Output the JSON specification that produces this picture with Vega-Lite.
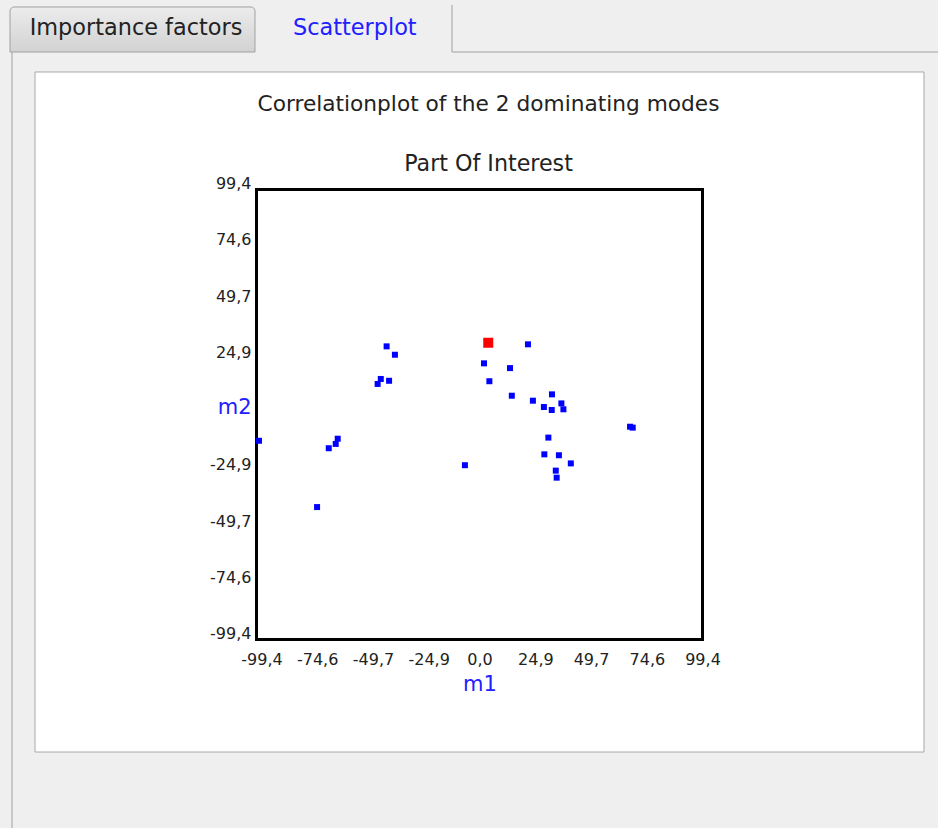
{
  "$schema": "https://vega.github.io/schema/vega-lite/v6.json",
  "width": 446,
  "height": 450,
  "autosize": {"type": "none"},
  "padding": {"left": 256.5, "top": 189.5, "right": 235.5, "bottom": 188.5},
  "background": "#efefef",
  "title": {
    "text": "Correlationplot of the 2 dominating modes",
    "subtitle": "Part Of Interest",
    "font": "DejaVu Sans",
    "fontSize": 21.7,
    "fontWeight": "normal",
    "color": "#222222",
    "subtitleFont": "DejaVu Sans",
    "subtitleFontSize": 22.2,
    "subtitleColor": "#222222",
    "subtitlePadding": 38,
    "anchor": "middle",
    "frame": "group",
    "dx": 9,
    "offset": -171
  },
  "config": {
    "view": {"stroke": null},
    "axis": {
      "grid": false,
      "domain": false,
      "ticks": false,
      "labelFont": "DejaVu Sans",
      "labelFontSize": 16,
      "labelColor": "#222222",
      "titleFont": "DejaVu Sans",
      "titleFontWeight": "normal",
      "labelOverlap": false,
      "labelFlush": false,
      "labelBound": false
    }
  },
  "layer": [
    {
      "data": {"values": [{}]},
      "mark": {"type": "rect", "clip": false, "stroke": "#a0a0a0", "strokeWidth": 1, "cornerRadiusTopLeft": 4, "cornerRadiusTopRight": 4,
        "fill": {"gradient": "linear", "x1": 0, "y1": 0, "x2": 0, "y2": 1, "stops": [{"offset": 0, "color": "#ececec"}, {"offset": 1, "color": "#d2d2d2"}]}},
      "encoding": {
        "x": {"datum": -209.27, "type": "quantitative"},
        "x2": {"datum": -100.07},
        "y": {"datum": 180.03, "type": "quantitative"},
        "y2": {"datum": 160.14}
      }
    },
    {
      "data": {"values": [{}]},
      "mark": {"type": "rule", "clip": false, "color": "#a0a0a0", "strokeWidth": 1},
      "encoding": {
        "x": {"datum": -12.26, "type": "quantitative"},
        "y": {"datum": 180.91, "type": "quantitative"},
        "y2": {"datum": 160.14}
      }
    },
    {
      "data": {"values": [{}]},
      "mark": {"type": "rule", "clip": false, "color": "#a0a0a0", "strokeWidth": 1},
      "encoding": {
        "x": {"datum": -12.26, "type": "quantitative"},
        "x2": {"datum": 214.18},
        "y": {"datum": 160.14, "type": "quantitative"}
      }
    },
    {
      "data": {"values": [{}]},
      "mark": {"type": "rule", "clip": false, "color": "#a0a0a0", "strokeWidth": 1},
      "encoding": {
        "x": {"datum": -208.38, "type": "quantitative"},
        "y": {"datum": 160.14, "type": "quantitative"},
        "y2": {"datum": -188.0}
      }
    },
    {
      "data": {"values": [{}]},
      "mark": {"type": "rect", "clip": false, "fill": "#ffffff", "stroke": "#a8a8a8", "strokeWidth": 1},
      "encoding": {
        "x": {"datum": -198.13, "type": "quantitative"},
        "x2": {"datum": 198.13},
        "y": {"datum": 151.31, "type": "quantitative"},
        "y2": {"datum": -149.10}
      }
    },
    {
      "data": {"values": [{}]},
      "mark": {"type": "rect", "clip": false, "fill": "#ffffff", "stroke": "#000000", "strokeWidth": 3},
      "encoding": {
        "x": {"datum": -99.4, "type": "quantitative"},
        "x2": {"datum": 99.4},
        "y": {"datum": -99.4, "type": "quantitative"},
        "y2": {"datum": 99.4}
      }
    },
    {
      "data": {"values": [{"label": "Importance factors"}]},
      "mark": {"type": "text", "clip": false, "font": "DejaVu Sans", "fontSize": 22.4, "color": "#222222", "align": "center", "baseline": "alphabetic"},
      "encoding": {
        "x": {"datum": -153.1, "type": "quantitative"},
        "y": {"datum": 167.7, "type": "quantitative"},
        "text": {"field": "label"}
      }
    },
    {
      "data": {"values": [{"label": "Scatterplot"}]},
      "mark": {"type": "text", "clip": false, "font": "DejaVu Sans", "fontSize": 22.4, "color": "#2020ff", "align": "center", "baseline": "alphabetic"},
      "encoding": {
        "x": {"datum": -55.6, "type": "quantitative"},
        "y": {"datum": 167.7, "type": "quantitative"},
        "text": {"field": "label"}
      }
    },
    {
      "data": {
        "values": [
          {"m1": -41.4, "m2": 30.1, "kind": "mode"},
          {"m1": -37.7, "m2": 26.4, "kind": "mode"},
          {"m1": -44.0, "m2": 15.7, "kind": "mode"},
          {"m1": -45.4, "m2": 13.5, "kind": "mode"},
          {"m1": -40.3, "m2": 14.9, "kind": "mode"},
          {"m1": -98.3, "m2": -11.6, "kind": "mode"},
          {"m1": -63.2, "m2": -10.7, "kind": "mode"},
          {"m1": -64.1, "m2": -13.0, "kind": "mode"},
          {"m1": -67.2, "m2": -14.9, "kind": "mode"},
          {"m1": -6.5, "m2": -22.4, "kind": "mode"},
          {"m1": -72.4, "m2": -40.9, "kind": "mode"},
          {"m1": 21.6, "m2": 31.0, "kind": "mode"},
          {"m1": 2.0, "m2": 22.6, "kind": "mode"},
          {"m1": 13.6, "m2": 20.5, "kind": "mode"},
          {"m1": 4.4, "m2": 14.7, "kind": "mode"},
          {"m1": 14.4, "m2": 8.3, "kind": "mode"},
          {"m1": 23.8, "m2": 6.1, "kind": "mode"},
          {"m1": 32.3, "m2": 8.9, "kind": "mode"},
          {"m1": 28.7, "m2": 3.3, "kind": "mode"},
          {"m1": 32.2, "m2": 2.0, "kind": "mode"},
          {"m1": 36.5, "m2": 4.9, "kind": "mode"},
          {"m1": 37.4, "m2": 2.3, "kind": "mode"},
          {"m1": 67.1, "m2": -5.4, "kind": "mode"},
          {"m1": 68.3, "m2": -5.8, "kind": "mode"},
          {"m1": 30.7, "m2": -10.2, "kind": "mode"},
          {"m1": 28.9, "m2": -17.6, "kind": "mode"},
          {"m1": 35.4, "m2": -18.0, "kind": "mode"},
          {"m1": 40.7, "m2": -21.6, "kind": "mode"},
          {"m1": 34.0, "m2": -24.8, "kind": "mode"},
          {"m1": 34.4, "m2": -27.9, "kind": "mode"},
          {"m1": 3.9, "m2": 31.7, "kind": "part of interest"}
        ]
      },
      "mark": {"type": "square", "filled": true, "opacity": 1, "clip": false},
      "encoding": {
        "x": {
          "field": "m1",
          "type": "quantitative",
          "scale": {"domain": [-99.4, 99.4], "nice": false, "zero": false},
          "axis": {
            "zindex": 5,
            "values": [-99.4, -74.6, -49.7, -24.9, 0, 24.9, 49.7, 74.6, 99.4],
            "labelExpr": "replace(replace(format(datum.value, '.1f'), '.', ','), '\u2212', '-')",
            "labelBaseline": "alphabetic",
            "labelPadding": 25,
            "labelOffset": {"condition": {"test": "datum.value < 0", "value": 5}, "value": 0},
            "title": "m1",
            "titleColor": "#2020ff",
            "titleFontSize": 21,
            "titlePadding": 6
          }
        },
        "y": {
          "field": "m2",
          "type": "quantitative",
          "scale": {"domain": [-99.4, 99.4], "nice": false, "zero": false},
          "axis": {
            "zindex": 5,
            "values": [-99.4, -74.6, -49.7, -24.9, 0, 24.9, 49.7, 74.6, 99.4],
            "labelExpr": "datum.value === 0 ? 'm2' : replace(replace(format(datum.value, '.1f'), '.', ','), '\u2212', '-')",
            "labelBaseline": "alphabetic",
            "labelPadding": 5.5,
            "labelOffset": -1,
            "labelColor": {"condition": {"test": "datum.value === 0", "value": "#2020ff"}, "value": "#222222"},
            "labelFontSize": {"condition": {"test": "datum.value === 0", "value": 21}, "value": 16},
            "title": null
          }
        },
        "color": {
          "field": "kind",
          "type": "nominal",
          "scale": {"domain": ["mode", "part of interest"], "range": ["#0000ff", "#ff0000"]},
          "legend": null
        },
        "size": {
          "field": "kind",
          "type": "nominal",
          "scale": {"domain": ["mode", "part of interest"], "range": [36, 100]},
          "legend": null
        }
      }
    }
  ]
}
